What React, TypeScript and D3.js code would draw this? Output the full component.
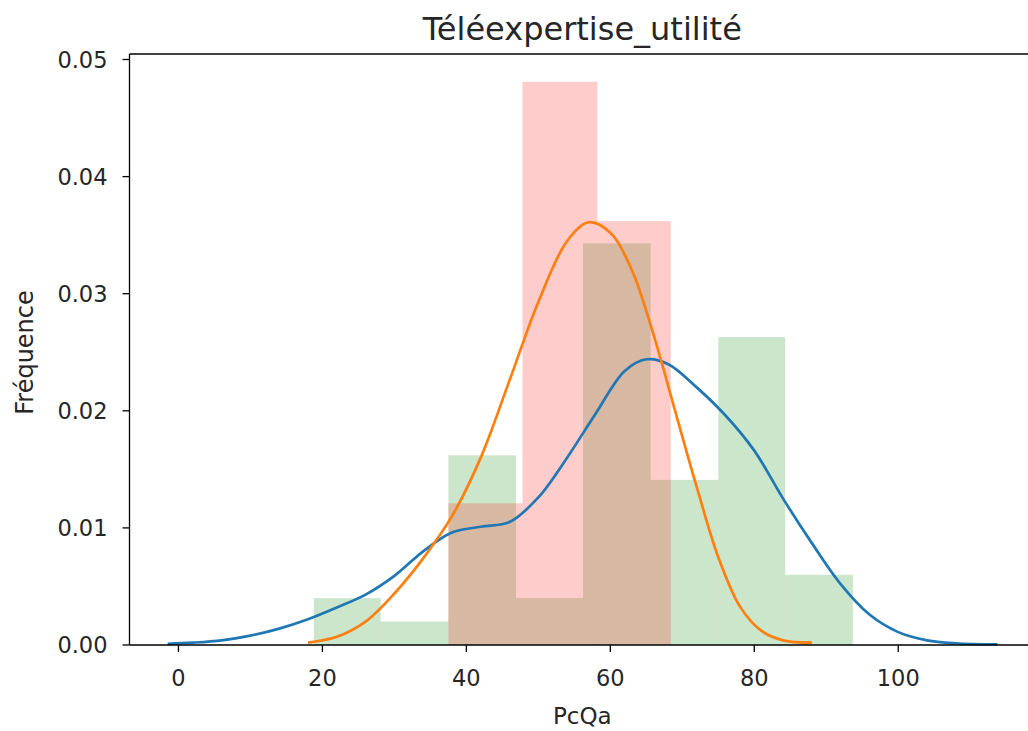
import React from "react";
import * as d3 from "d3";

const title = "Téléexpertise_utilité";
const xLabel = "PcQa";
const yLabel = "Fréquence";
const xTicks = [0, 20, 40, 60, 80, 100];
const yTicks = [0, 0.01, 0.02, 0.03, 0.04, 0.05];

const greenEdges = [18.8, 28.1, 37.5, 46.9, 56.2, 65.6, 75.0, 84.3, 93.7];
const greenDensity = [0.004, 0.002, 0.0162, 0.004, 0.0343, 0.0141, 0.0263, 0.006];

const redEdges = [37.5, 47.8, 58.2, 68.4];
const redDensity = [0.0121, 0.0481, 0.0362];

const blueX = [-1.5, 2, 6, 10, 14, 18, 22, 26, 30, 34, 38, 42, 46, 50, 54, 58, 62, 65, 68, 72, 76, 80, 84, 88, 92, 96, 100, 104, 108, 113.8];
const blueY = [0.0001, 0.0002, 0.0004, 0.0008, 0.0014, 0.0022, 0.0032, 0.0043, 0.0059, 0.008, 0.0096, 0.0101, 0.0105, 0.0126, 0.016, 0.0198, 0.0234, 0.0244, 0.024, 0.022, 0.0196, 0.0166, 0.0125, 0.0087, 0.0052, 0.0026, 0.0011, 0.0004, 0.00015, 0.00005];

const orangeX = [18, 22, 26, 30, 34, 38, 42, 46, 50, 54, 57, 60, 63, 66, 69, 72, 75, 78, 81, 84, 88];
const orangeY = [0.0002, 0.0007, 0.002, 0.0044, 0.0074, 0.011, 0.016, 0.0226, 0.0293, 0.0345, 0.0361, 0.0352, 0.032, 0.0265, 0.02, 0.0135, 0.0075, 0.0033, 0.0012, 0.0004, 0.0002];

const W = 1028;
const H = 731;
const left = 129.5;
const right = 1035;
const top = 54;
const bottom = 645;
const font = "'DejaVu Sans', sans-serif";
const ink = "#262626";

export default function App() {
  const x = d3.scaleLinear().domain([-6.8, 119]).range([left, right]);
  const y = d3.scaleLinear().domain([0, 0.05047]).range([bottom, top]);
  const fmt = d3.format(".2f");

  const line = d3
    .line<[number, number]>()
    .x((d) => x(d[0]))
    .y((d) => y(d[1]))
    .curve(d3.curveCatmullRom.alpha(0.5));

  const bluePts = blueX.map((v, i) => [v, blueY[i]] as [number, number]);
  const orangePts = orangeX.map((v, i) => [v, orangeY[i]] as [number, number]);

  return (
    <svg
      width={W}
      height={H}
      style={{ position: "absolute", left: 0, top: 0, background: "#fff" }}
      fontFamily={font}
    >
      <rect x={0} y={0} width={W} height={H} fill="#fff" />
      {greenDensity.map((d, i) => (
        <rect
          key={"g" + i}
          x={x(greenEdges[i])}
          y={y(d)}
          width={x(greenEdges[i + 1]) - x(greenEdges[i])}
          height={y(0) - y(d)}
          fill="#008000"
          fillOpacity={0.2}
        />
      ))}
      {redDensity.map((d, i) => (
        <rect
          key={"r" + i}
          x={x(redEdges[i])}
          y={y(d)}
          width={x(redEdges[i + 1]) - x(redEdges[i])}
          height={y(0) - y(d)}
          fill="#ff0000"
          fillOpacity={0.2}
        />
      ))}
      <path d={line(bluePts) || ""} fill="none" stroke="#1f77b4" strokeWidth={2.7} />
      <path d={line(orangePts) || ""} fill="none" stroke="#ff7f0e" strokeWidth={2.7} />

      <line x1={left} x2={left} y1={top} y2={bottom} stroke="#000" strokeWidth={1.3} />
      <line x1={left} x2={right} y1={bottom} y2={bottom} stroke="#000" strokeWidth={1.3} />
      <line x1={left} x2={right} y1={top} y2={top} stroke="#000" strokeWidth={1.3} />
      <line x1={right} x2={right} y1={top} y2={bottom} stroke="#000" strokeWidth={1.3} />

      {xTicks.map((t) => (
        <g key={"xt" + t}>
          <line x1={x(t)} x2={x(t)} y1={bottom} y2={bottom + 7} stroke="#000" strokeWidth={1.3} />
          <text x={x(t)} y={bottom + 41} textAnchor="middle" fontSize={22.5} fill={ink}>
            {t}
          </text>
        </g>
      ))}
      {yTicks.map((t) => (
        <g key={"yt" + t}>
          <line x1={left - 7} x2={left} y1={y(t)} y2={y(t)} stroke="#000" strokeWidth={1.3} />
          <text x={left - 22} y={y(t) + 8} textAnchor="end" fontSize={22.5} fill={ink}>
            {fmt(t)}
          </text>
        </g>
      ))}
      <text x={(left + right) / 2} y={40} textAnchor="middle" fontSize={32} fill={ink}>
        {title}
      </text>
      <text x={(left + right) / 2} y={724} textAnchor="middle" fontSize={23} fill={ink}>
        {xLabel}
      </text>
      <text
        transform={`translate(33, ${(top + bottom) / 2 + 3}) rotate(-90)`}
        textAnchor="middle"
        fontSize={24}
        fill={ink}
      >
        {yLabel}
      </text>
    </svg>
  );
}
